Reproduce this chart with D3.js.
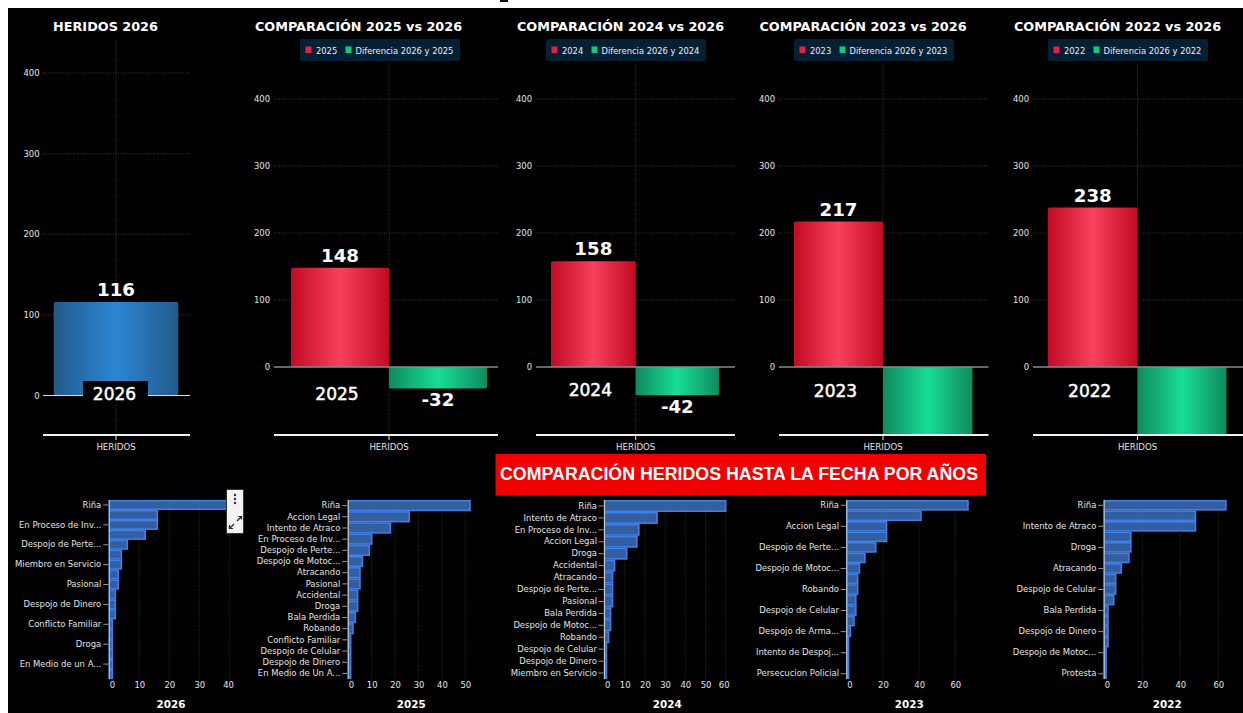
<!DOCTYPE html>
<html><head><meta charset="utf-8">
<style>html,body{margin:0;padding:0;background:#fff;overflow:hidden}svg{display:block}text{font-family:"DejaVu Sans",sans-serif}</style>
<script src="https://cdn.jsdelivr.net/npm/d3@7/dist/d3.min.js"></script>
</head><body><svg id="c" width="1243" height="713"></svg>
<script>
// ---- data ----
const totalYear = "2026";
const total2026 = 116;
const compareYears = ["2025","2024","2023","2022"];
const compareValues = [148,158,217,238];
const diffValues = [-32,-42,-101,-122];
const yTicks = [0,100,200,300,400];

const cats2026 = ["Riña","","En Proceso de Inv...","","Despojo de Perte...","","Miembro en Servicio","","Pasional","","Despojo de Dinero","","Conflicto Familiar","","Droga","","En Medio de un A...",""];
const vals2026 = [40,16,16,12,6,4,4,3,3,2,2,2,1,1,1,1,1,1];
const cats2025 = ["Riña","Accion Legal","Intento de Atraco","En Proceso de Inv...","Despojo de Perte...","Despojo de Motoc...","Atracando","Pasional","Accidental","Droga","Bala Perdida","Robando","Conflicto Familiar","Despojo de Celular","Despojo de Dinero","En Medio de Un A..."];
const vals2025 = [52,26,18,10,9,6,5,5,4,4,3,2,1,1,1,1];
const cats2024 = ["Riña","Intento de Atraco","En Proceso de Inv...","Accion Legal","Droga","Accidental","Atracando","Despojo de Perte...","Pasional","Bala Perdida","Despojo de Motoc...","Robando","Despojo de Celular","Despojo de Dinero","Miembro en Servicio"];
const vals2024 = [60,26,17,16,11,5,4,4,4,3,3,2,1,1,1];
const cats2023 = ["Riña","","Accion Legal","","Despojo de Perte...","","Despojo de Motoc...","","Robando","","Despojo de Celular","","Despojo de Arma...","","Intento de Despoj...","","Persecucion Policial"];
const vals2023 = [67,41,22,22,16,10,7,6,6,5,5,4,2,1,1,1,1];
const cats2022 = ["Riña","","Intento de Atraco","","Droga","","Atracando","","Despojo de Celular","","Bala Perdida","","Despojo de Dinero","","Despojo de Motoc...","","Protesta"];
const vals2022 = [64,48,48,14,14,13,9,6,6,5,2,2,2,2,1,1,1];
const xTicks2026 = [0,10,20,30,40];
const xTicks2025 = [0,10,20,30,40,50];
const xTicks2024 = [0,10,20,30,40,50,60];
const xTicksWide = [0,20,40,60];

// ---- layout ----
const svg = d3.select("#c");
const FG = "#e4e4e4";
svg.append("rect").attr("x",8).attr("y",8).attr("width",1235).attr("height",705).attr("fill","#000");
svg.append("rect").attr("x",500).attr("y",0).attr("width",8).attr("height",2).attr("fill","#111");

const defs = svg.append("defs");
function grad(id,edge,mid,edge2){
  const g = defs.append("linearGradient").attr("id",id).attr("x1",0).attr("x2",1).attr("y1",0).attr("y2",0);
  g.append("stop").attr("offset","0%").attr("stop-color",edge);
  g.append("stop").attr("offset","50%").attr("stop-color",mid);
  g.append("stop").attr("offset","100%").attr("stop-color",edge2||edge);
}
grad("gBlue","#235a8a","#2a86d4");
grad("gRed","#c20a22","#f9415e");
grad("gGreen","#0f8a5e","#17de96");

function grid(g,x1,x2,y1,y2,color){
  g.append("line").attr("x1",x1).attr("x2",x2).attr("y1",y1).attr("y2",y2)
   .attr("stroke",color||"#3d3d3d").attr("stroke-width",1).attr("stroke-dasharray","1 1.5");
}
function title(t,x,y){
  svg.append("text").attr("x",x).attr("y",y).attr("text-anchor","middle").attr("font-size",12.8).attr("font-weight","bold").attr("fill","#fff").text(t);
}
function yAxis(g,y,left,right,labelX){
  yTicks.forEach(v=>{ if(v!==0) grid(g,left,right,y(v),y(v)); });
  const ax = g.append("g").attr("transform",`translate(${labelX},0)`)
    .call(d3.axisLeft(y).tickValues(yTicks).tickSize(0).tickPadding(0));
  ax.select(".domain").remove();
  ax.selectAll("text").attr("font-size",8.45).attr("fill",FG).style("font-family",'"DejaVu Sans"');
}
function xBottom(g,center,left,right,bottom){
  const xs = d3.scaleBand().domain(["HERIDOS"]).range([center-60,center+60]);
  const ax = g.append("g").attr("transform",`translate(0,${bottom})`).call(d3.axisBottom(xs).tickSize(5).tickPadding(4));
  ax.select(".domain").remove();
  ax.selectAll("line").attr("stroke","#eee").attr("stroke-width",1);
  ax.selectAll("text").attr("font-size",8.6).attr("fill",FG).style("font-family",'"DejaVu Sans"');
  g.append("line").attr("x1",left).attr("x2",right).attr("y1",bottom).attr("y2",bottom).attr("stroke","#f0f0f0").attr("stroke-width",2);
}

// ---- panel 1: total ----
(function(){
  const left=43,right=190,top=40,bottom=435,center=116;
  const y=d3.scaleLinear().domain([0,400]).range([395.5,73]);
  const g=svg.append("g");
  grid(g,center,center,top,bottom);
  yAxis(g,y,left,right,39.5);
  const w=124.5;
  g.append("path").attr("fill","url(#gBlue)")
   .attr("d",`M${center-w/2},${y(0)}V${y(total2026)+1.5}q0,-1.5 1.5,-1.5H${center+w/2-1.5}q1.5,0 1.5,1.5V${y(0)}Z`);
  grid(g,center,center,y(total2026),y(0),"#4a7ea8");
  g.append("line").attr("x1",left).attr("x2",right).attr("y1",y(0)).attr("y2",y(0)).attr("stroke","#ddd").attr("stroke-width",1);
  g.append("rect").attr("x",83).attr("y",381).attr("width",65).attr("height",24).attr("fill","#000");
  xBottom(g,center,left,right,bottom);
  g.append("text").attr("x",center).attr("y",y(total2026)-6).attr("text-anchor","middle").attr("font-size",18.2).attr("font-weight","bold").attr("fill","#fff").text(total2026);
  g.append("text").attr("x",114.5).attr("y",400).attr("text-anchor","middle").attr("font-size",17).attr("fill","#fff").attr("stroke","#fff").attr("stroke-width",.5).text(totalYear);
  title("HERIDOS 2026",105.5,30.5);
})();

// ---- comparison panels ----
const cmpLayout=[
 {left:274,right:498,center:389,labelX:270,barL:291,barR:487,legX:300,titleX:358.5,yearY:400},
 {left:536,right:735,center:635.7,labelX:532,barL:551,barR:719,legX:546,titleX:620.5,yearY:396},
 {left:779,right:988.5,center:883,labelX:775,barL:794,barR:972.5,legX:794,titleX:863,yearY:397},
 {left:1033,right:1243,center:1137.5,labelX:1029,barL:1048,barR:1226.5,legX:1048,titleX:1117.5,yearY:397}
];
compareYears.forEach((yr,i)=>{
  const L=cmpLayout[i], top=64, bottom=435;
  const y=d3.scaleLinear().domain([0,400]).range([367,99]);
  const g=svg.append("g");
  grid(g,L.center,L.center,top,bottom);
  yAxis(g,y,L.left,L.right,L.labelX);
  const v=compareValues[i], d=diffValues[i];
  g.append("path").attr("fill","url(#gRed)")
   .attr("d",`M${L.barL},${y(0)}V${y(v)+1.5}q0,-1.5 1.5,-1.5H${L.center-1.5}q1.5,0 1.5,1.5V${y(0)}Z`);
  const yEnd=Math.min(y(d),bottom);
  g.append("path").attr("fill","url(#gGreen)")
   .attr("d",`M${L.center},${y(0)}V${yEnd-1.5}q0,1.5 1.5,1.5H${L.barR-1.5}q1.5,0 1.5,-1.5V${y(0)}Z`);
  g.append("line").attr("x1",L.left).attr("x2",L.right).attr("y1",y(0)).attr("y2",y(0)).attr("stroke","#8a8a8a").attr("stroke-width",1.6);
  xBottom(g,L.center,L.left,L.right,bottom);
  const redC=(L.barL+L.center)/2, greenC=(L.center+L.barR)/2;
  g.append("text").attr("x",redC).attr("y",y(v)-6).attr("text-anchor","middle").attr("font-size",18.2).attr("font-weight","bold").attr("fill","#fff").text(v);
  g.append("text").attr("x",redC-3).attr("y",L.yearY).attr("text-anchor","middle").attr("font-size",17).attr("fill","#fff").attr("stroke","#fff").attr("stroke-width",.5).text(yr);
  if(y(d)+20<bottom){
    g.append("text").attr("x",greenC).attr("y",y(d)+18).attr("text-anchor","middle").attr("font-size",18.2).attr("font-weight","bold").attr("fill","#fff").text(d);
  }
  title(`COMPARACIÓN ${yr} vs 2026`,L.titleX,30.5);
  // legend
  const lg=svg.append("g").attr("transform",`translate(${L.legX},39)`);
  lg.append("rect").attr("width",160).attr("height",22).attr("rx",2).attr("fill","#032035");
  lg.append("rect").attr("x",5.5).attr("y",7.5).attr("width",6).attr("height",6.5).attr("fill","#e8203f");
  lg.append("text").attr("x",16).attr("y",14.5).attr("font-size",8.35).attr("fill","#eef").text(yr);
  lg.append("rect").attr("x",45.5).attr("y",7.5).attr("width",6).attr("height",6.5).attr("fill","#14c884");
  lg.append("text").attr("x",55.5).attr("y",14.5).attr("font-size",8.35).attr("fill","#eef").text(`Diferencia 2026 y ${yr}`);
});

// ---- red banner ----
svg.append("rect").attr("x",495.5).attr("y",454).attr("width",490.5).attr("height",41.5).attr("fill","#f00000");
svg.append("text").attr("x",739).attr("y",479.5).attr("text-anchor","middle").attr("font-size",18.3)
  .attr("font-weight","bold").style("font-family",'"Liberation Sans"').attr("fill","#fff")
  .attr("textLength",478).attr("lengthAdjust","spacingAndGlyphs")
  .text("COMPARACIÓN HERIDOS HASTA LA FECHA POR AÑOS");

// ---- bottom bar charts ----
const hPanels=[
 {yr:"2026",cats:cats2026,vals:vals2026,ticks:xTicks2026,x0:109.3,x1:229.3,dMax:40,right:233.5,labelX:101.3,tx:171},
 {yr:"2025",cats:cats2025,vals:vals2025,ticks:xTicks2025,x0:348.3,x1:465.3,dMax:50,right:480,labelX:340.3,tx:411.3},
 {yr:"2024",cats:cats2024,vals:vals2024,ticks:xTicks2024,x0:604.5,x1:725.7,dMax:60,right:729,labelX:597,tx:667.3},
 {yr:"2023",cats:cats2023,vals:vals2023,ticks:xTicksWide,x0:846.8,x1:955.3,dMax:60,right:985,labelX:839,tx:909.3},
 {yr:"2022",cats:cats2022,vals:vals2022,ticks:xTicksWide,x0:1104.2,x1:1218.3,dMax:60,right:1235,labelX:1096.3,tx:1167.3}
];
hPanels.forEach(P=>{
  const top=500,bottom=679;
  const idx=d3.range(P.vals.length);
  const x=d3.scaleLinear().domain([0,P.dMax]).range([P.x0,P.x1]);
  const y=d3.scaleBand().domain(idx).range([top,bottom]).paddingInner(0.04).paddingOuter(0.02);
  const g=svg.append("g");
  P.ticks.forEach(t=>{ if(t!==0) grid(g,x(t),x(t),top,bottom,"#2e2e2e"); });
  g.selectAll("rect.b").data(idx).join("rect").attr("class","b")
    .attr("x",x(0)).attr("y",i=>y(i)+.5)
    .attr("width",i=>x(P.vals[i])-x(0)).attr("height",Math.max(1,y.bandwidth()-1))
    .attr("fill","rgba(70,130,220,0.72)").attr("stroke","#3f7fe8").attr("stroke-width",1.6);
  g.append("line").attr("x1",x(0)).attr("x2",x(0)).attr("y1",top).attr("y2",bottom).attr("stroke","#c8c8c8").attr("stroke-width",1);
  // category axis
  const shown=idx.filter(i=>P.cats[i]!=="");
  const ya=g.append("g").attr("transform",`translate(${x(0)-1},0)`)
     .call(d3.axisLeft(y).tickValues(shown).tickSize(5).tickPadding(2).tickFormat(i=>P.cats[i]));
  ya.select(".domain").remove();
  ya.selectAll("line").attr("stroke","#999");
  ya.selectAll("text").attr("font-size",8.45).attr("fill",FG).style("font-family",'"DejaVu Sans"')
    .attr("x",P.labelX-x(0)+1);
  // value axis
  const xa=g.append("g").attr("transform",`translate(0,${bottom})`)
     .call(d3.axisBottom(x).tickValues(P.ticks).tickSize(0).tickPadding(3));
  xa.select(".domain").remove();
  xa.selectAll("text").attr("font-size",8.45).attr("fill",FG).style("font-family",'"DejaVu Sans"')
    .each(function(t){
      const w=this.getComputedTextLength(), c=x(t);
      let dx=0;
      if(c-w/2<x(0)) dx=x(0)-(c-w/2);
      if(c+w/2>P.right) dx=P.right-(c+w/2);
      d3.select(this).attr("x",dx);
    });
  g.append("text").attr("x",P.tx).attr("y",707.5).attr("text-anchor","middle").attr("font-size",10.4).attr("font-weight","bold").attr("fill","#fff").text(P.yr);
});

// ---- chart menu overlay ----
const mb=svg.append("g").attr("transform","translate(226,489)");
mb.append("rect").attr("x",.5).attr("y",.5).attr("width",17).attr("height",44).attr("fill","#f2f2f5").attr("stroke","#333");
[6,10,14].forEach(cy=>mb.append("circle").attr("cx",9).attr("cy",cy).attr("r",1.2).attr("fill","#333"));
mb.append("path").attr("d","M11,32 L15,28 M12.5,27.5 H15.5 V30.5 M8,35 L4,39 M3.5,36 V39.5 H7").attr("fill","none").attr("stroke","#222").attr("stroke-width",1.2);
</script></body></html>
